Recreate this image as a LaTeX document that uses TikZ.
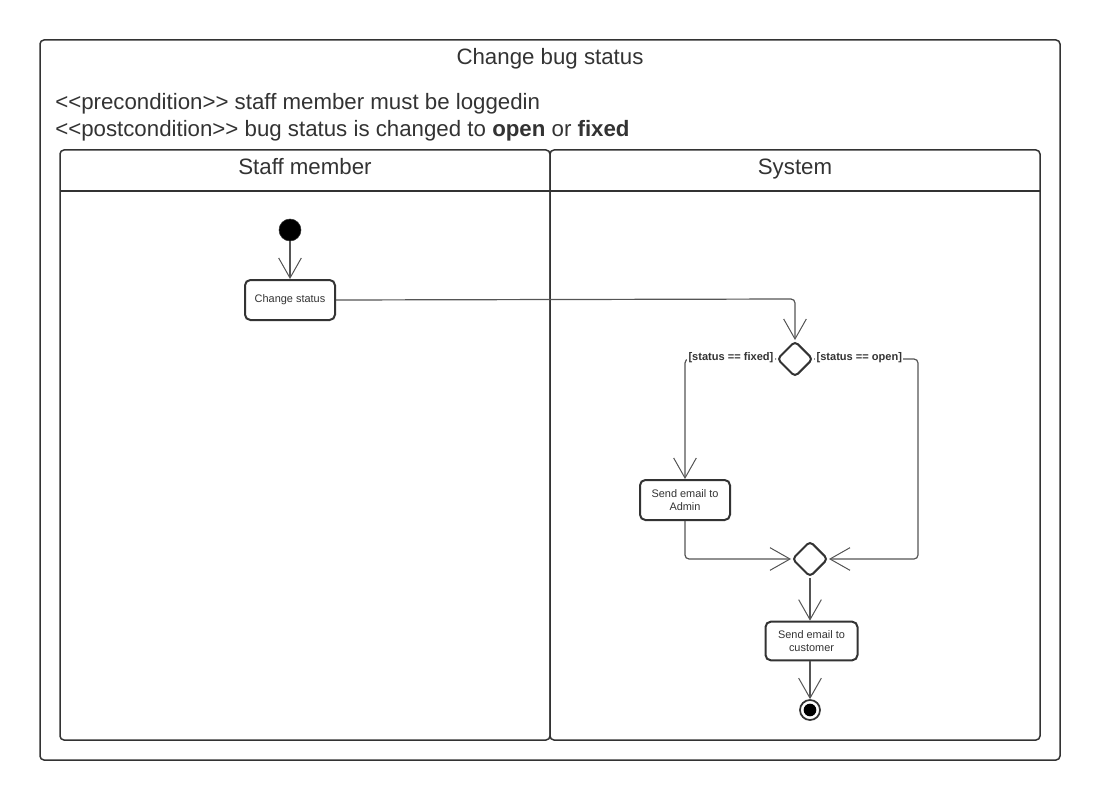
\documentclass[tikz,border=0pt]{standalone}
\usepackage{fontspec}
\setmainfont{Liberation Sans}
\usetikzlibrary{arrows.meta,shapes.geometric}
\definecolor{ink}{HTML}{333333}
\definecolor{wire}{HTML}{555555}
\tikzset{
  frame/.style={draw=ink,line width=1.5pt*0.75,rounded corners=3pt},
  lanebox/.style={draw=ink,line width=1.5pt*0.75,rounded corners=3pt},
  act/.style={draw=ink,line width=2pt*0.75,rounded corners=4pt,fill=white,text=ink,
    font=\fontsize{8.2}{9.7}\selectfont,align=center,inner sep=0pt},
  dec/.style={draw=ink,line width=2pt*0.75,diamond,minimum width=27pt,minimum height=27pt,
    inner sep=0pt,rounded corners=3pt,fill=white},
  flow/.style={draw=wire,line width=0.9pt,-{Straight Barb[length=15pt,width=17pt,line width=0.75pt]}},
  guard/.style={fill=white,text=ink,font=\bfseries\fontsize{8.3}{10}\selectfont,inner sep=1pt},
  big/.style={text=ink,font=\fontsize{16.7}{19}\selectfont,anchor=base,inner sep=0pt},
}
\begin{document}
\begin{tikzpicture}[x=0.75pt,y=-0.75pt]
\useasboundingbox (0,0) rectangle (1100,795);
% outer frame
\draw[frame] (40,40) rectangle (1060,760);
\node[big] (title) at (550,65) {Change bug status};
\node[big,anchor=base west] (pre) at (55,110) {{<}{<}precondition{>}{>} staff member must be loggedin};
\node[big,anchor=base west] (post) at (55,137) {{<}{<}postcondition{>}{>} bug status is changed to \textbf{open} or \textbf{fixed}};
% lanes
\draw[lanebox] (60,150) rectangle (550,740);
\draw[lanebox] (550,150) rectangle (1040,740);
\draw[draw=ink,line width=1.5pt*0.75] (60,191) -- (1040,191);
\node[big] (lane1) at (305,175) {Staff member};
\node[big] (lane2) at (795,175) {System};
% nodes
\node[circle,fill=black,draw=ink,minimum size=16.5pt,inner sep=0pt] (start) at (290,230) {};
\node[act,minimum width=67.5pt,minimum height=30pt] (change) at (290,300) {Change status};
\node[dec] (d1) at (795,359) {};
\node[act,minimum width=67.5pt,minimum height=30pt] (admin) at (685,500) {Send email to\\Admin};
\node[dec] (d2) at (810,559) {};
\node[act,minimum width=69pt,minimum height=29pt] (cust) at (811.5,641) {Send email to\\customer};
\node[circle,draw=ink,line width=1.3pt,fill=white,minimum size=15pt,inner sep=0pt] (end) at (810,710) {};
\node[circle,fill=black,minimum size=9.5pt,inner sep=0pt] (endin) at (810,710) {};
% connectors
\draw[flow] (start) -- (change);
\draw[flow,rounded corners=3pt] (change.east) -- (795,299) -- (d1.north);
\draw[flow,rounded corners=3pt] (d1.west) -- (685,359) -- (admin.north);
\draw[flow,rounded corners=3pt] (d1.east) -- (918,359) -- (918,559) -- (d2.east);
\draw[flow,rounded corners=3pt] (admin.south) -- (685,559) -- (d2.west);
\draw[flow] (d2.south) -- (cust.north -| d2.south);
\draw[flow] (cust.south -| end.north) -- (end.north);
% guards
\node[guard,anchor=east] (g1) at (775,358) {[status == fixed]};
\node[guard,anchor=west] (g2) at (815,358) {[status == open]};
\end{tikzpicture}
\end{document}
